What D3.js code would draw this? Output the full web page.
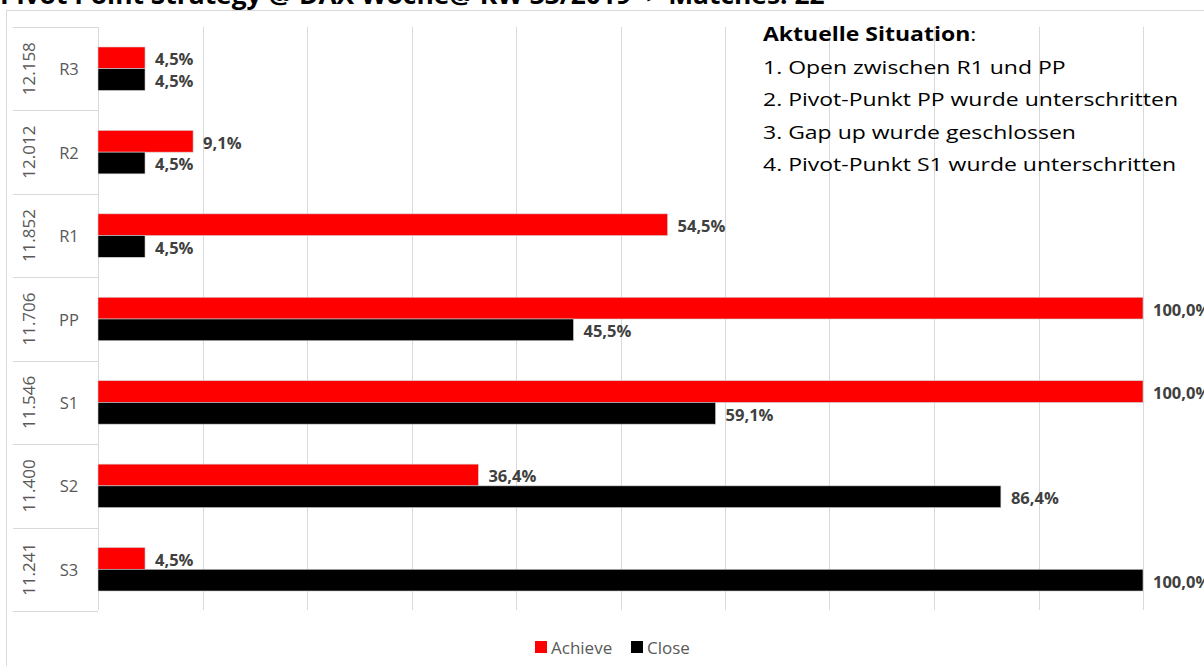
<!DOCTYPE html>
<html>
<head>
<meta charset="utf-8">
<script src="https://cdn.jsdelivr.net/npm/d3@7"></script>
<style>
  body { margin: 0; background: #fff; }
  svg { display: block; font-family: 'Open Sans', sans-serif; }
</style>
</head>
<body>
<div class="canvas"></div>
<script>
// data
const levels = ['R3', 'R2', 'R1', 'PP', 'S1', 'S2', 'S3']
const prices = ['12.158', '12.012', '11.852', '11.706', '11.546', '11.400', '11.241']
const seriesNames = ['Achieve', 'Close']
const achieve = [4.5, 9.1, 54.5, 100.0, 100.0, 36.4, 4.5]
const close = [4.5, 4.5, 4.5, 45.5, 59.1, 86.4, 100.0]
const xTicks = [0, 10, 20, 30, 40, 50, 60, 70, 80, 90, 100]
const title = 'Pivot Point Strategy @ DAX Woche@ KW 33/2019 -> Matches: 22'
const noteHead = 'Aktuelle Situation'
const notes = [
    '1. Open zwischen R1 und PP',
    '2. Pivot-Punkt PP wurde unterschritten',
    '3. Gap up wurde geschlossen',
    '4. Pivot-Punkt S1 wurde unterschritten'
]

const colors = { Achieve: '#ff0000', Close: '#000000' }
const gridColor = '#d9d9d9'
const labelColor = '#595959'

const width = 1204
const height = 666

const svg = d3.select('.canvas')
    .append('svg')
    .attr('width', width)
    .attr('height', height)

// chart area border
svg.append('rect')
    .attr('x', 6.5)
    .attr('y', 10.5)
    .attr('width', width + 20)
    .attr('height', height + 20)
    .attr('fill', '#fff')
    .attr('stroke', gridColor)

// title (cut off by the top edge, text is a bit stretched in the original)
svg.append('text')
    .attr('transform', 'translate(0, 4) scale(1.055, 1)')
    .attr('font-size', 25)
    .attr('font-weight', 'bold')
    .attr('fill', '#000')
    .text(title)

// plot geometry
const plot = { left: 98, right: 1143, top: 27, bottom: 611 }

const x = d3.scaleLinear()
    .domain([0, 100])
    .range([plot.left, plot.right])

const y0 = d3.scaleBand()
    .domain(levels)
    .range([plot.top, plot.bottom])

const y1 = d3.scaleBand()
    .domain(seriesNames)
    .range([0, y0.bandwidth()])
    .paddingOuter(0.92)

const rows = levels.map((lvl, i) => ({
    level: lvl,
    price: prices[i],
    values: [
        { name: 'Achieve', value: achieve[i] },
        { name: 'Close', value: close[i] }
    ]
}))

// vertical gridlines
svg.append('g')
    .selectAll('line')
    .data(xTicks)
    .enter()
    .append('line')
    .attr('x1', d => Math.round(x(d)) + 0.5)
    .attr('x2', d => Math.round(x(d)) + 0.5)
    .attr('y1', plot.top)
    .attr('y2', plot.bottom - 1)
    .attr('stroke', gridColor)

// category axis: separators
const bounds = levels.map(d => y0(d)).concat([plot.bottom])
svg.append('g')
    .selectAll('line')
    .data(bounds)
    .enter()
    .append('line')
    .attr('x1', 13)
    .attr('x2', plot.left)
    .attr('y1', d => Math.round(d) + 0.5)
    .attr('y2', d => Math.round(d) + 0.5)
    .attr('stroke', gridColor)

// inner labels
svg.append('g')
    .selectAll('text')
    .data(rows)
    .enter()
    .append('text')
    .attr('x', 69)
    .attr('y', d => y0(d.level) + y0.bandwidth() / 2)
    .attr('text-anchor', 'middle')
    .attr('dominant-baseline', 'central')
    .attr('font-size', 16.5)
    .attr('fill', labelColor)
    .text(d => d.level)

// outer labels (rotated)
svg.append('g')
    .selectAll('text')
    .data(rows)
    .enter()
    .append('text')
    .attr('transform', d => `translate(28, ${y0(d.level) + y0.bandwidth() / 2}) rotate(-90)`)
    .attr('text-anchor', 'middle')
    .attr('dominant-baseline', 'central')
    .attr('font-size', 17)
    .attr('fill', labelColor)
    .text(d => d.price)

// bars
const groups = svg.append('g')
    .selectAll('g')
    .data(rows)
    .enter()
    .append('g')
    .attr('transform', d => `translate(0, ${y0(d.level)})`)

groups.selectAll('rect')
    .data(d => d.values)
    .enter()
    .append('rect')
    .attr('x', x(0))
    .attr('y', d => y1(d.name))
    .attr('width', d => x(d.value) - x(0))
    .attr('height', y1.bandwidth())
    .attr('fill', d => colors[d.name])
    .attr('stroke', '#d0d0d0')
    .attr('stroke-width', 0.6)

// data labels
const fmt = v => d3.format('.1f')(v).replace('.', ',') + '%'
groups.selectAll('text')
    .data(d => d.values)
    .enter()
    .append('text')
    .attr('x', d => x(d.value) + 10)
    .attr('y', d => y1(d.name) + y1.bandwidth() / 2 + 1)
    .attr('dominant-baseline', 'central')
    .attr('font-size', 16.5)
    .attr('font-weight', 'bold')
    .attr('fill', '#404040')
    .text(d => fmt(d.value))

// annotation box
const note = svg.append('g')
    .attr('transform', 'translate(763, 0) scale(1.21, 1)')
    .attr('font-size', 19)
    .attr('fill', '#000')

const head = note.append('text')
    .attr('x', 0)
    .attr('y', 41)
head.append('tspan').attr('font-weight', 'bold').text(noteHead)
head.append('tspan').text(':')

note.selectAll('.line')
    .data(notes)
    .enter()
    .append('text')
    .attr('class', 'line')
    .attr('x', 0)
    .attr('y', (d, i) => 74 + i * 32.3)
    .text(d => d)

// legend
const legend = svg.append('g')
    .attr('transform', 'translate(535, 647)')

const items = legend.selectAll('g')
    .data(seriesNames)
    .enter()
    .append('g')
    .attr('transform', (d, i) => `translate(${i * 96}, 0)`)

items.append('rect')
    .attr('x', 0)
    .attr('y', -6)
    .attr('width', 12)
    .attr('height', 12)
    .attr('fill', d => colors[d])

items.append('text')
    .attr('x', 16)
    .attr('y', 0)
    .attr('dominant-baseline', 'central')
    .attr('font-size', 17)
    .attr('fill', labelColor)
    .text(d => d)
</script>
</body>
</html>
